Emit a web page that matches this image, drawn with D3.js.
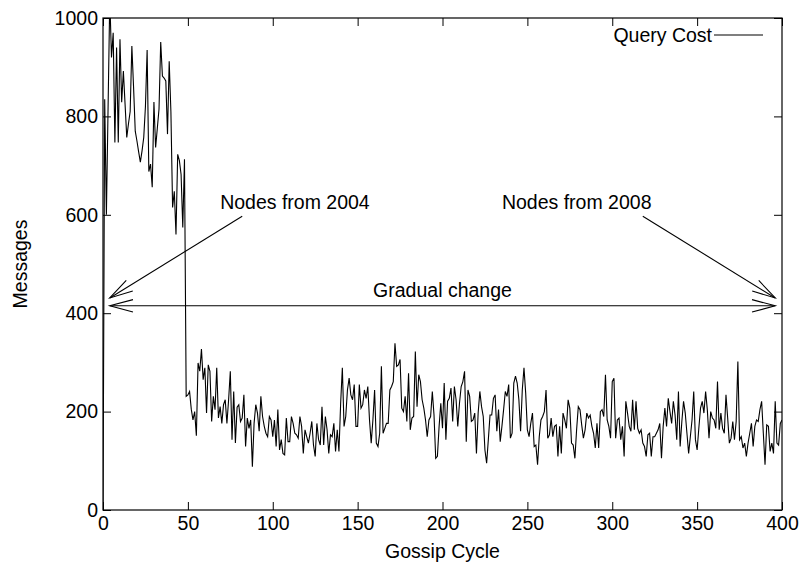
<!DOCTYPE html>
<html>
<head>
<meta charset="utf-8">
<script src="https://cdn.jsdelivr.net/npm/d3@7"></script>
<style>
  html, body { margin: 0; padding: 0; background: #fff; }
  svg { display: block; }
  text { font-family: "Liberation Sans", Arial, Helvetica, sans-serif; fill: #000; }
</style>
</head>
<body>
<svg id="chart" width="807" height="567"></svg>
<script>
// ---- Data ----
const xTicks = [0, 50, 100, 150, 200, 250, 300, 350, 400];
const yTicks = [0, 200, 400, 600, 800, 1000];
const seriesName = "Query Cost";
const xLabel = "Gossip Cycle";
const yLabel = "Messages";

// Query cost per gossip cycle (cycle 0..400)
const queryCost = [
  0, 835, 600, 820, 1040, 920, 970, 747, 940, 747,
  957, 829, 892, 825, 757, 785, 810, 943, 860, 770,
  750, 728, 707, 730, 757, 820, 935, 688, 703, 656,
  829, 737, 776, 815, 951, 882, 878, 872, 764, 912,
  810, 615, 648, 560, 723, 710, 682, 574, 713, 231,
  234, 241, 205, 183, 200, 151,
  299, 282, 327, 265, 289, 197, 295, 282, 180, 231,
  204, 289, 187, 210, 176, 214, 224, 176, 224, 282,
  143, 241, 136, 209, 214, 180, 187, 234, 129, 187,
  166, 183, 88, 176, 214, 197, 160, 231, 190, 170,
  156, 149, 190, 183, 149, 183, 129, 204, 122, 143,
  115, 112, 187, 139, 139, 190, 176, 156, 153, 146,
  190, 170, 115, 163, 149, 136, 156, 180, 132, 109,
  176, 143, 132, 210, 132, 190, 163, 115, 153, 149,
  176, 119, 163, 119, 217, 289,
  170, 190, 244, 268, 234, 224, 255, 170, 170, 255,
  207, 214, 244, 227, 251, 183, 136, 183, 244, 136,
  129, 156, 292, 156, 166, 176, 176, 244, 251, 261,
  339, 292, 295, 306, 207, 200, 231, 180, 278, 163,
  187, 190, 322, 210, 275, 261, 224, 207, 183, 149,
  183, 190, 241, 193, 105, 109, 170, 217, 166, 258,
  143, 221, 227, 248, 180, 251, 224, 170, 217, 251,
  261, 282, 139, 244, 231, 180, 183, 197, 115,
  197, 241, 210, 190, 122, 95, 143, 193, 193, 227,
  234, 160, 204, 139, 170, 204, 241, 231, 255, 146,
  156, 258, 272, 258, 224, 160, 244, 289, 238, 163,
  149, 176, 197, 129, 132, 92, 149, 183, 190, 200,
  244, 146, 153, 187, 149, 170, 173, 109, 170, 115,
  197, 183, 166, 224, 207, 136, 132, 105, 163, 210,
  204, 173, 146, 163, 197, 187, 193, 170, 156, 126,
  176, 126, 200, 204, 190, 275, 183, 170, 146, 261,
  268, 146, 183, 187, 143, 170,
  109, 221, 197, 170, 160, 224, 163, 221, 166, 156,
  163, 136, 129, 109, 153, 156, 109, 149, 149, 156,
  163, 176, 105, 170, 207, 170, 227, 200, 176, 221,
  193, 143, 241, 129, 180, 221, 197, 156, 115, 149,
  183, 241, 143, 122, 166, 207, 221, 197, 241, 204,
  146, 200, 187, 183, 166, 261, 163, 197, 166, 156,
  234, 187, 136, 146, 180, 143, 180, 302, 143, 149,
  126, 136, 109, 136, 156, 176, 129, 170, 183, 180,
  204, 221, 156, 92, 173, 170, 119, 136, 115, 221,
  136, 132, 176, 183
];
const cycles = queryCost.map((_, i) => i);

// Annotations (data coordinates)
const annotations = [
  { text: "Nodes from 2004", x: 69, y: 612, anchor: "start" },
  { text: "Nodes from 2008", x: 235, y: 612, anchor: "start" },
  { text: "Gradual change", x: 200, y: 432, anchor: "middle" }
];
const arrows = [
  { from: [82, 597], to: [4, 431], heads: ["end"] },
  { from: [318, 597], to: [396, 431], heads: ["end"] },
  { from: [4, 415], to: [396, 415], heads: ["start", "end"] }
];

// ---- Layout ----
const m = { left: 103, right: 782, top: 18, bottom: 510 };
const svg = d3.select("#chart");

const x = d3.scaleLinear().domain([0, 400]).range([m.left, m.right]);
const y = d3.scaleLinear().domain([0, 1000]).range([m.bottom, m.top]);

svg.append("defs").append("clipPath").attr("id", "plotclip")
  .append("rect").attr("x", m.left).attr("y", m.top)
  .attr("width", m.right - m.left).attr("height", m.bottom - m.top);

const tickLen = 8;
const fs = 19.5;

// Axes with inward ticks (bottom/top, left/right)
const gB = svg.append("g").attr("transform", `translate(0,${m.bottom})`)
  .call(d3.axisBottom(x).tickValues(xTicks).tickSize(-tickLen).tickPadding(6).tickFormat(d3.format("d")));
const gT = svg.append("g").attr("transform", `translate(0,${m.top})`)
  .call(d3.axisTop(x).tickValues(xTicks).tickSize(-tickLen).tickFormat(""));
const gL = svg.append("g").attr("transform", `translate(${m.left},0)`)
  .call(d3.axisLeft(y).tickValues(yTicks).tickSize(-tickLen).tickPadding(5).tickFormat(d3.format("d")));
const gR = svg.append("g").attr("transform", `translate(${m.right},0)`)
  .call(d3.axisRight(y).tickValues(yTicks).tickSize(-tickLen).tickFormat(""));

[gB, gT, gL, gR].forEach(g => {
  g.select(".domain").remove();
  g.selectAll(".tick line").attr("stroke", "#000").attr("stroke-width", 1);
  g.selectAll("text").attr("font-size", fs).attr("font-family", "Liberation Sans, Arial, sans-serif").attr("fill", "#000");
});
gB.selectAll("text").attr("dy", "0.72em");

// Frame
svg.append("rect").attr("x", m.left).attr("y", m.top)
  .attr("width", m.right - m.left).attr("height", m.bottom - m.top)
  .attr("fill", "none").attr("stroke", "#000").attr("stroke-width", 1.2);

// Data line
const line = d3.line().x((d, i) => x(cycles[i])).y(d => y(d));
svg.append("path").datum(queryCost)
  .attr("clip-path", "url(#plotclip)")
  .attr("fill", "none").attr("stroke", "#000").attr("stroke-width", 1.1)
  .attr("stroke-linejoin", "miter")
  .attr("d", line);

// Arrows
function headPath(tip, tail) {
  const dx = tail[0] - tip[0], dy = tail[1] - tip[1];
  const len = Math.hypot(dx, dy), ux = dx / len, uy = dy / len;
  const L = 24, ang = 15 * Math.PI / 180;
  const c = Math.cos(ang), s = Math.sin(ang);
  const a = [tip[0] + L * (ux * c - uy * s), tip[1] + L * (ux * s + uy * c)];
  const b = [tip[0] + L * (ux * c + uy * s), tip[1] + L * (-ux * s + uy * c)];
  return `M${a[0]},${a[1]}L${tip[0]},${tip[1]}L${b[0]},${b[1]}`;
}
const ga = svg.append("g").attr("stroke", "#000").attr("fill", "none").attr("stroke-width", 1.1);
arrows.forEach(ar => {
  const p0 = [x(ar.from[0]), y(ar.from[1])], p1 = [x(ar.to[0]), y(ar.to[1])];
  ga.append("line").attr("x1", p0[0]).attr("y1", p0[1]).attr("x2", p1[0]).attr("y2", p1[1]);
  if (ar.heads.includes("end")) ga.append("path").attr("d", headPath(p1, p0));
  if (ar.heads.includes("start")) ga.append("path").attr("d", headPath(p0, p1));
});

// Annotation texts
annotations.forEach(a => {
  svg.append("text").attr("x", x(a.x)).attr("y", y(a.y))
    .attr("text-anchor", a.anchor).attr("font-size", fs).text(a.text);
});

// Legend
svg.append("text").attr("x", 712).attr("y", 42).attr("text-anchor", "end")
  .attr("font-size", fs).text(seriesName);
svg.append("line").attr("x1", 714).attr("x2", 763).attr("y1", 35).attr("y2", 35)
  .attr("stroke", "#000").attr("stroke-width", 1.1);

// Axis titles
svg.append("text").attr("x", (m.left + m.right) / 2).attr("y", 558)
  .attr("text-anchor", "middle").attr("font-size", fs).text(xLabel);
svg.append("text").attr("transform", `translate(27,${(m.top + m.bottom) / 2}) rotate(-90)`)
  .attr("text-anchor", "middle").attr("font-size", fs).text(yLabel);
</script>
</body>
</html>
